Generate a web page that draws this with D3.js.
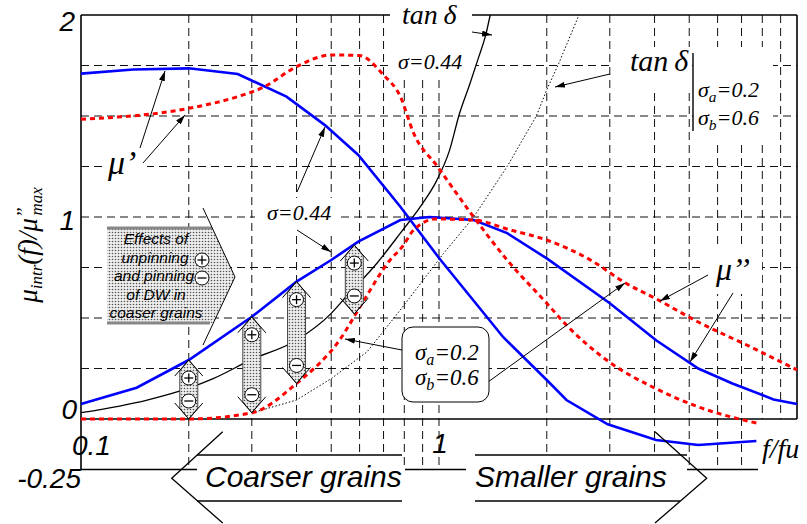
<!DOCTYPE html>
<html>
<head>
<meta charset="utf-8">
<script src="https://cdn.jsdelivr.net/npm/d3@7"></script>
<style>
  body { margin: 0; background: #fff; }
  .serif { font-family: "Liberation Serif", "Times New Roman", Times, "DejaVu Serif", serif; font-style: italic; }
  .sans { font-family: "Liberation Sans", Arial, "DejaVu Sans", sans-serif; font-style: italic; }
</style>
</head>
<body>
<svg id="chart"></svg>
<script>
// values: x is f/fu (log), y is mu_intr(f)/mu''max

// mu' , sigma = 0.44 (blue solid)
var muP044_f = [0.1, 0.14, 0.2, 0.274, 0.375, 0.48, 0.595, 0.78, 1.0, 1.51, 2.0, 2.27, 2.96, 4.04, 5.3, 7.7];
var muP044_v = [1.71, 1.73, 1.736, 1.708, 1.596, 1.455, 1.307, 1.051, 0.797, 0.406, 0.193, 0.094, -0.026, -0.104, -0.129, -0.109];

// mu' , sigma_a = 0.2 / sigma_b = 0.6 (red dashed)
var muPab_f = [0.1, 0.2, 0.274, 0.322, 0.4, 0.5, 0.6, 0.7, 0.78, 0.85, 0.99, 1.25, 1.55, 2.0, 2.27, 3.0, 4.04, 5.3, 7.7];
var muPab_v = [1.484, 1.538, 1.596, 1.641, 1.744, 1.802, 1.799, 1.703, 1.596, 1.414, 1.25, 1.0, 0.787, 0.573, 0.465, 0.28, 0.15, 0.06, -0.02];

// mu'' , sigma = 0.44 (blue solid)
var muDD044_f = [0.1, 0.143, 0.2, 0.3, 0.4, 0.5, 0.595, 0.78, 0.94, 1.25, 1.55, 2.0, 3.0, 4.04, 5.3, 6.6, 8.6, 10];
var muDD044_v = [0.074, 0.155, 0.292, 0.506, 0.68, 0.787, 0.878, 0.985, 1.0, 0.985, 0.92, 0.795, 0.573, 0.39, 0.25, 0.176, 0.097, 0.074];

// mu'' , sigma_a / sigma_b (red dashed)
var muDDab_f = [0.1, 0.2, 0.3, 0.4, 0.53, 0.61, 0.73, 0.79, 0.85, 0.98, 1.25, 1.58, 2.0, 2.65, 3.33, 4.1, 5.3, 7.4, 10];
var muDDab_v = [0, 0, 0.031, 0.176, 0.396, 0.573, 0.787, 0.853, 0.936, 0.99, 0.985, 0.936, 0.886, 0.787, 0.672, 0.589, 0.48, 0.358, 0.243];

// tan delta, sigma = 0.44 (black solid)
var tan044_f = [0.1, 0.153, 0.2, 0.234, 0.3, 0.4, 0.5, 0.55, 0.67, 0.78, 0.886, 0.985, 1.07, 1.14, 1.22, 1.29, 1.35, 1.39];
var tan044_v = [0.031, 0.094, 0.153, 0.2, 0.295, 0.39, 0.523, 0.605, 0.77, 0.92, 1.05, 1.18, 1.33, 1.51, 1.66, 1.79, 1.9, 2.0];

// tan delta, sigma_a / sigma_b (black dotted)
var tanAb_f = [0.3, 0.4, 0.5, 0.63, 0.78, 1.03, 1.25, 1.55, 1.87, 2.0, 2.16, 2.46];
var tanAb_v = [0.03, 0.094, 0.2, 0.333, 0.54, 0.82, 1.0, 1.25, 1.5, 1.63, 1.76, 2.0];

// grid / ticks
var gridF = [0.2, 0.3, 0.4, 0.5, 0.6, 0.7, 0.8, 0.9, 1, 2, 3, 4, 5, 6, 7, 8, 9];
var gridV = [0.25, 0.5, 0.75, 1, 1.25, 1.5, 1.75];

// +/- double arrows between curves
var pmF = [0.2, 0.3, 0.4, 0.58];
var pmTop = [0.292, 0.506, 0.68, 0.861];
var pmBot = [0, 0.031, 0.176, 0.52];

var W = 807, H = 524;

var svg = d3.select("#chart").attr("width", W).attr("height", H);
svg.append("rect").attr("width", W).attr("height", H).attr("fill", "#fff");

var x = d3.scaleLog().domain([0.1, 10]).range([81, 797]);
var y = d3.scaleLinear().domain([-0.25, 2]).range([469.5, 15]);

var defs = svg.append("defs");
var pat = defs.append("pattern").attr("id", "dots")
    .attr("width", 3).attr("height", 3).attr("patternUnits", "userSpaceOnUse");
pat.append("rect").attr("width", 3).attr("height", 3).attr("fill", "#eee");
pat.append("circle").attr("cx", 1.5).attr("cy", 1.5).attr("r", 0.8).attr("fill", "#555");

defs.append("marker").attr("id", "arr")
    .attr("viewBox", "0 0 10 6").attr("refX", 10).attr("refY", 3)
    .attr("markerWidth", 10).attr("markerHeight", 6)
    .attr("markerUnits", "userSpaceOnUse").attr("orient", "auto")
    .append("path").attr("d", "M0,0L10,3L0,6z").attr("fill", "#000");

// ---- grid
var grid = svg.append("g").attr("stroke", "#111").attr("stroke-width", 1).attr("stroke-dasharray", "8,5");
gridF.forEach(function (f) {
    grid.append("line")
        .attr("x1", x(f)).attr("x2", x(f))
        .attr("y1", y(2)).attr("y2", f <= 7 ? y(-0.25) : y(0));
});
gridV.forEach(function (v) {
    grid.append("line")
        .attr("x1", x(0.1)).attr("x2", x(10))
        .attr("y1", y(v)).attr("y2", y(v));
});

// white patches behind labels (they hide the grid)
var bgs = [[393, 15, 83, 61], [612, 47, 80, 42], [693, 47, 80, 94], [105, 148, 42, 37],
           [255, 198, 85, 38], [705, 248, 57, 46]];
bgs.forEach(function (b) {
    svg.append("rect").attr("x", b[0]).attr("y", b[1]).attr("width", b[2]).attr("height", b[3]).attr("fill", "#fff");
});

// ---- frame
var frame = svg.append("g").attr("stroke", "#000").attr("stroke-width", 1.6).attr("fill", "none");
frame.append("line").attr("x1", x(0.1)).attr("x2", x(0.1)).attr("y1", y(2)).attr("y2", y(-0.25));
frame.append("line").attr("x1", x(0.1)).attr("x2", x(10)).attr("y1", y(2)).attr("y2", y(2));
frame.append("line").attr("x1", x(10)).attr("x2", x(10)).attr("y1", y(2)).attr("y2", y(0));
frame.append("line").attr("x1", x(0.1)).attr("x2", x(10)).attr("y1", y(0)).attr("y2", y(0));
[[81, 197], [405, 466], [680, 758]].forEach(function (s) {
    frame.append("line").attr("x1", s[0]).attr("x2", s[1]).attr("y1", y(-0.25)).attr("y2", y(-0.25));
});
svg.append("rect").attr("x", 390).attr("y", 0).attr("width", 82).attr("height", 32).attr("fill", "#fff");

// ---- curves
function zip(fs, vs) { return fs.map(function (f, i) { return [f, vs[i]]; }); }
var line = d3.line().x(function (d) { return x(d[0]); }).y(function (d) { return y(d[1]); });

svg.append("path").datum(zip(tanAb_f, tanAb_v)).attr("d", line)
    .attr("fill", "none").attr("stroke", "#000").attr("stroke-width", 1).attr("stroke-dasharray", "1.5,2");
svg.append("path").datum(zip(tan044_f, tan044_v)).attr("d", line.curve(d3.curveMonotoneX))
    .attr("fill", "none").attr("stroke", "#000").attr("stroke-width", 1.3);
line.curve(d3.curveLinear);
[[muP044_f, muP044_v], [muDD044_f, muDD044_v]].forEach(function (s) {
    svg.append("path").datum(zip(s[0], s[1])).attr("d", line)
        .attr("fill", "none").attr("stroke", "#0000ff").attr("stroke-width", 2.6);
});
[[muPab_f, muPab_v], [muDDab_f, muDDab_v]].forEach(function (s) {
    svg.append("path").datum(zip(s[0], s[1])).attr("d", line.curve(d3.curveMonotoneX))
        .attr("fill", "none").attr("stroke", "#ff0000").attr("stroke-width", 3).attr("stroke-dasharray", "5,4");
});
line.curve(d3.curveLinear);

// ---- circled + / -
function circSign(cx, cy, plus) {
    svg.append("circle").attr("cx", cx).attr("cy", cy).attr("r", 7)
        .attr("fill", "#fff").attr("stroke", "#000").attr("stroke-width", 1);
    svg.append("line").attr("x1", cx - 4.5).attr("x2", cx + 4.5).attr("y1", cy).attr("y2", cy)
        .attr("stroke", "#000").attr("stroke-width", 1.3);
    if (plus) svg.append("line").attr("x1", cx).attr("x2", cx).attr("y1", cy - 4.5).attr("y2", cy + 4.5)
        .attr("stroke", "#000").attr("stroke-width", 1.3);
}

// ---- +/- double arrows
pmF.forEach(function (f, i) {
    var cx = x(f), t = y(pmTop[i]), b = y(pmBot[i]);
    var pts = [[cx, t], [cx + 9, t + 11], [cx + 9, b - 11], [cx, b], [cx - 9, b - 11], [cx - 9, t + 11]];
    svg.append("polygon").attr("points", pts.join(" "))
        .attr("fill", "url(#dots)").attr("stroke", "#333").attr("stroke-width", 0.9);
    svg.append("polyline").attr("points", [[cx - 14, t + 16], [cx, t], [cx + 14, t + 16]].join(" "))
        .attr("fill", "none").attr("stroke", "#000").attr("stroke-width", 1);
    svg.append("polyline").attr("points", [[cx - 14, b - 16], [cx, b], [cx + 14, b - 16]].join(" "))
        .attr("fill", "none").attr("stroke", "#000").attr("stroke-width", 1);
    circSign(cx, t + 18, true);
    circSign(cx, b - 18, false);
});

// ---- "Effects of ..." block arrow
svg.append("polygon").attr("points", "107,228 212,228 235,277 213,323 107,323")
    .attr("fill", "url(#dots)");
svg.append("line").attr("x1", 107).attr("x2", 212).attr("y1", 228).attr("y2", 228).attr("stroke", "#888").attr("stroke-width", 3);
svg.append("line").attr("x1", 107).attr("x2", 210).attr("y1", 323).attr("y2", 323).attr("stroke", "#888").attr("stroke-width", 3);
svg.append("polyline").attr("points", "203,208 235,277 203,345")
    .attr("fill", "none").attr("stroke", "#000").attr("stroke-width", 1);
var effLines = ["Effects of", "unpinning", "and pinning", "of DW in", "coaser grains"];
effLines.forEach(function (s, i) {
    svg.append("text").attr("class", "sans").attr("x", i == 1 ? 155 : (i == 2 ? 154 : 156)).attr("y", 244 + i * 18.5)
        .attr("text-anchor", "middle").attr("font-size", 15.5).text(s);
});
circSign(202, 260, true);
circSign(202, 278, false);

// ---- pointer arrows
var pointers = [[472, 32, 492, 35], [610, 74, 555, 87], [140, 148, 165, 71], [143, 163, 185, 115],
                [297, 192, 325, 127], [297, 230, 331, 252], [708, 275, 660, 301], [733, 293, 690, 362],
                [402, 350, 345, 339], [488, 382, 625, 283]];
pointers.forEach(function (p) {
    svg.append("line").attr("x1", p[0]).attr("y1", p[1]).attr("x2", p[2]).attr("y2", p[3])
        .attr("stroke", "#000").attr("stroke-width", 1).attr("marker-end", "url(#arr)");
});

// ---- sigma box
svg.append("rect").attr("x", 402).attr("y", 327).attr("width", 87).attr("height", 75).attr("rx", 11)
    .attr("fill", "#fff").attr("stroke", "#000").attr("stroke-width", 1);

function sigmaLabel(xp, yp, sub, val, size) {
    var t = svg.append("text").attr("class", "serif").attr("x", xp).attr("y", yp).attr("font-size", size);
    t.append("tspan").text("σ");
    if (sub) {
        t.append("tspan").attr("font-size", size * 0.7).attr("dy", size * 0.22).text(sub);
        t.append("tspan").attr("dy", -size * 0.22).text("=" + val);
    } else {
        t.append("tspan").text("=" + val);
    }
}
sigmaLabel(415, 360, "a", "0.2", 23);
sigmaLabel(415, 385, "b", "0.6", 23);
sigmaLabel(698, 97, "a", "0.2", 22);
sigmaLabel(698, 125, "b", "0.6", 22);
sigmaLabel(398, 69, null, "0.44", 22);
sigmaLabel(267, 220, null, "0.44", 22);

function serifText(xp, yp, size, s, anchor) {
    return svg.append("text").attr("class", "serif").attr("x", xp).attr("y", yp)
        .attr("text-anchor", anchor || "start").attr("font-size", size).text(s);
}
serifText(402, 24, 28, "tan\u2009δ");
serifText(630, 71, 30, "tan\u2009δ");
svg.append("line").attr("x1", 693).attr("x2", 693).attr("y1", 53).attr("y2", 131)
    .attr("stroke", "#000").attr("stroke-width", 1.4);
serifText(108, 174, 34, "μ’");
serifText(716, 280, 32, "μ’’");
serifText(762, 458, 28, "f/fu");

// ---- tick labels
function sansText(xp, yp, size, s, anchor) {
    return svg.append("text").attr("class", "sans").attr("x", xp).attr("y", yp)
        .attr("text-anchor", anchor || "start").attr("font-size", size).text(s);
}
sansText(75, 31, 28, "2", "end");
sansText(75, 230, 28, "1", "end");
sansText(77, 419, 28, "0", "end");
sansText(81, 488, 28, "-0.25", "end");
sansText(72, 455, 28, "0.1");
sansText(x(1) + 1, 453, 28, "1", "middle");

// ---- y axis title
var yl = svg.append("text").attr("class", "serif").attr("transform", "translate(37,245) rotate(-90)")
    .attr("text-anchor", "middle").attr("font-size", 27);
yl.append("tspan").text("μ");
yl.append("tspan").attr("font-size", 17).attr("dy", 5).text("intr");
yl.append("tspan").attr("dy", -5).text("(f)/μ");
yl.append("tspan").attr("font-size", 19).attr("dy", -7).text("’’");
yl.append("tspan").attr("font-size", 17).attr("dx", -8).attr("dy", 12).text("max");

// ---- grain-size block arrows
function grainArrow(x0, x1, xb, tipX, chevX, label) {
    svg.append("rect").attr("x", Math.min(x0, x1)).attr("y", 455).attr("width", Math.abs(x1 - x0)).attr("height", 46).attr("fill", "#fff");
    svg.append("line").attr("x1", x0).attr("x2", x1).attr("y1", 455).attr("y2", 455).attr("stroke", "#000").attr("stroke-width", 1.3);
    svg.append("line").attr("x1", x0).attr("x2", xb).attr("y1", 501).attr("y2", 501).attr("stroke", "#000").attr("stroke-width", 1.3);
    svg.append("polyline").attr("points", [[chevX, 431.7], [tipX, 478.3], [chevX, 523]].join(" "))
        .attr("fill", "none").attr("stroke", "#000").attr("stroke-width", 1.3);
    sansText(label[0], 487, 30, label[1]);
}
grainArrow(197, 402, 402, 171.7, 222.7, [205, "Coarser grains"]);
grainArrow(475, 687, 680, 706.7, 655, [475, "Smaller grains"]);
</script>
</body>
</html>
